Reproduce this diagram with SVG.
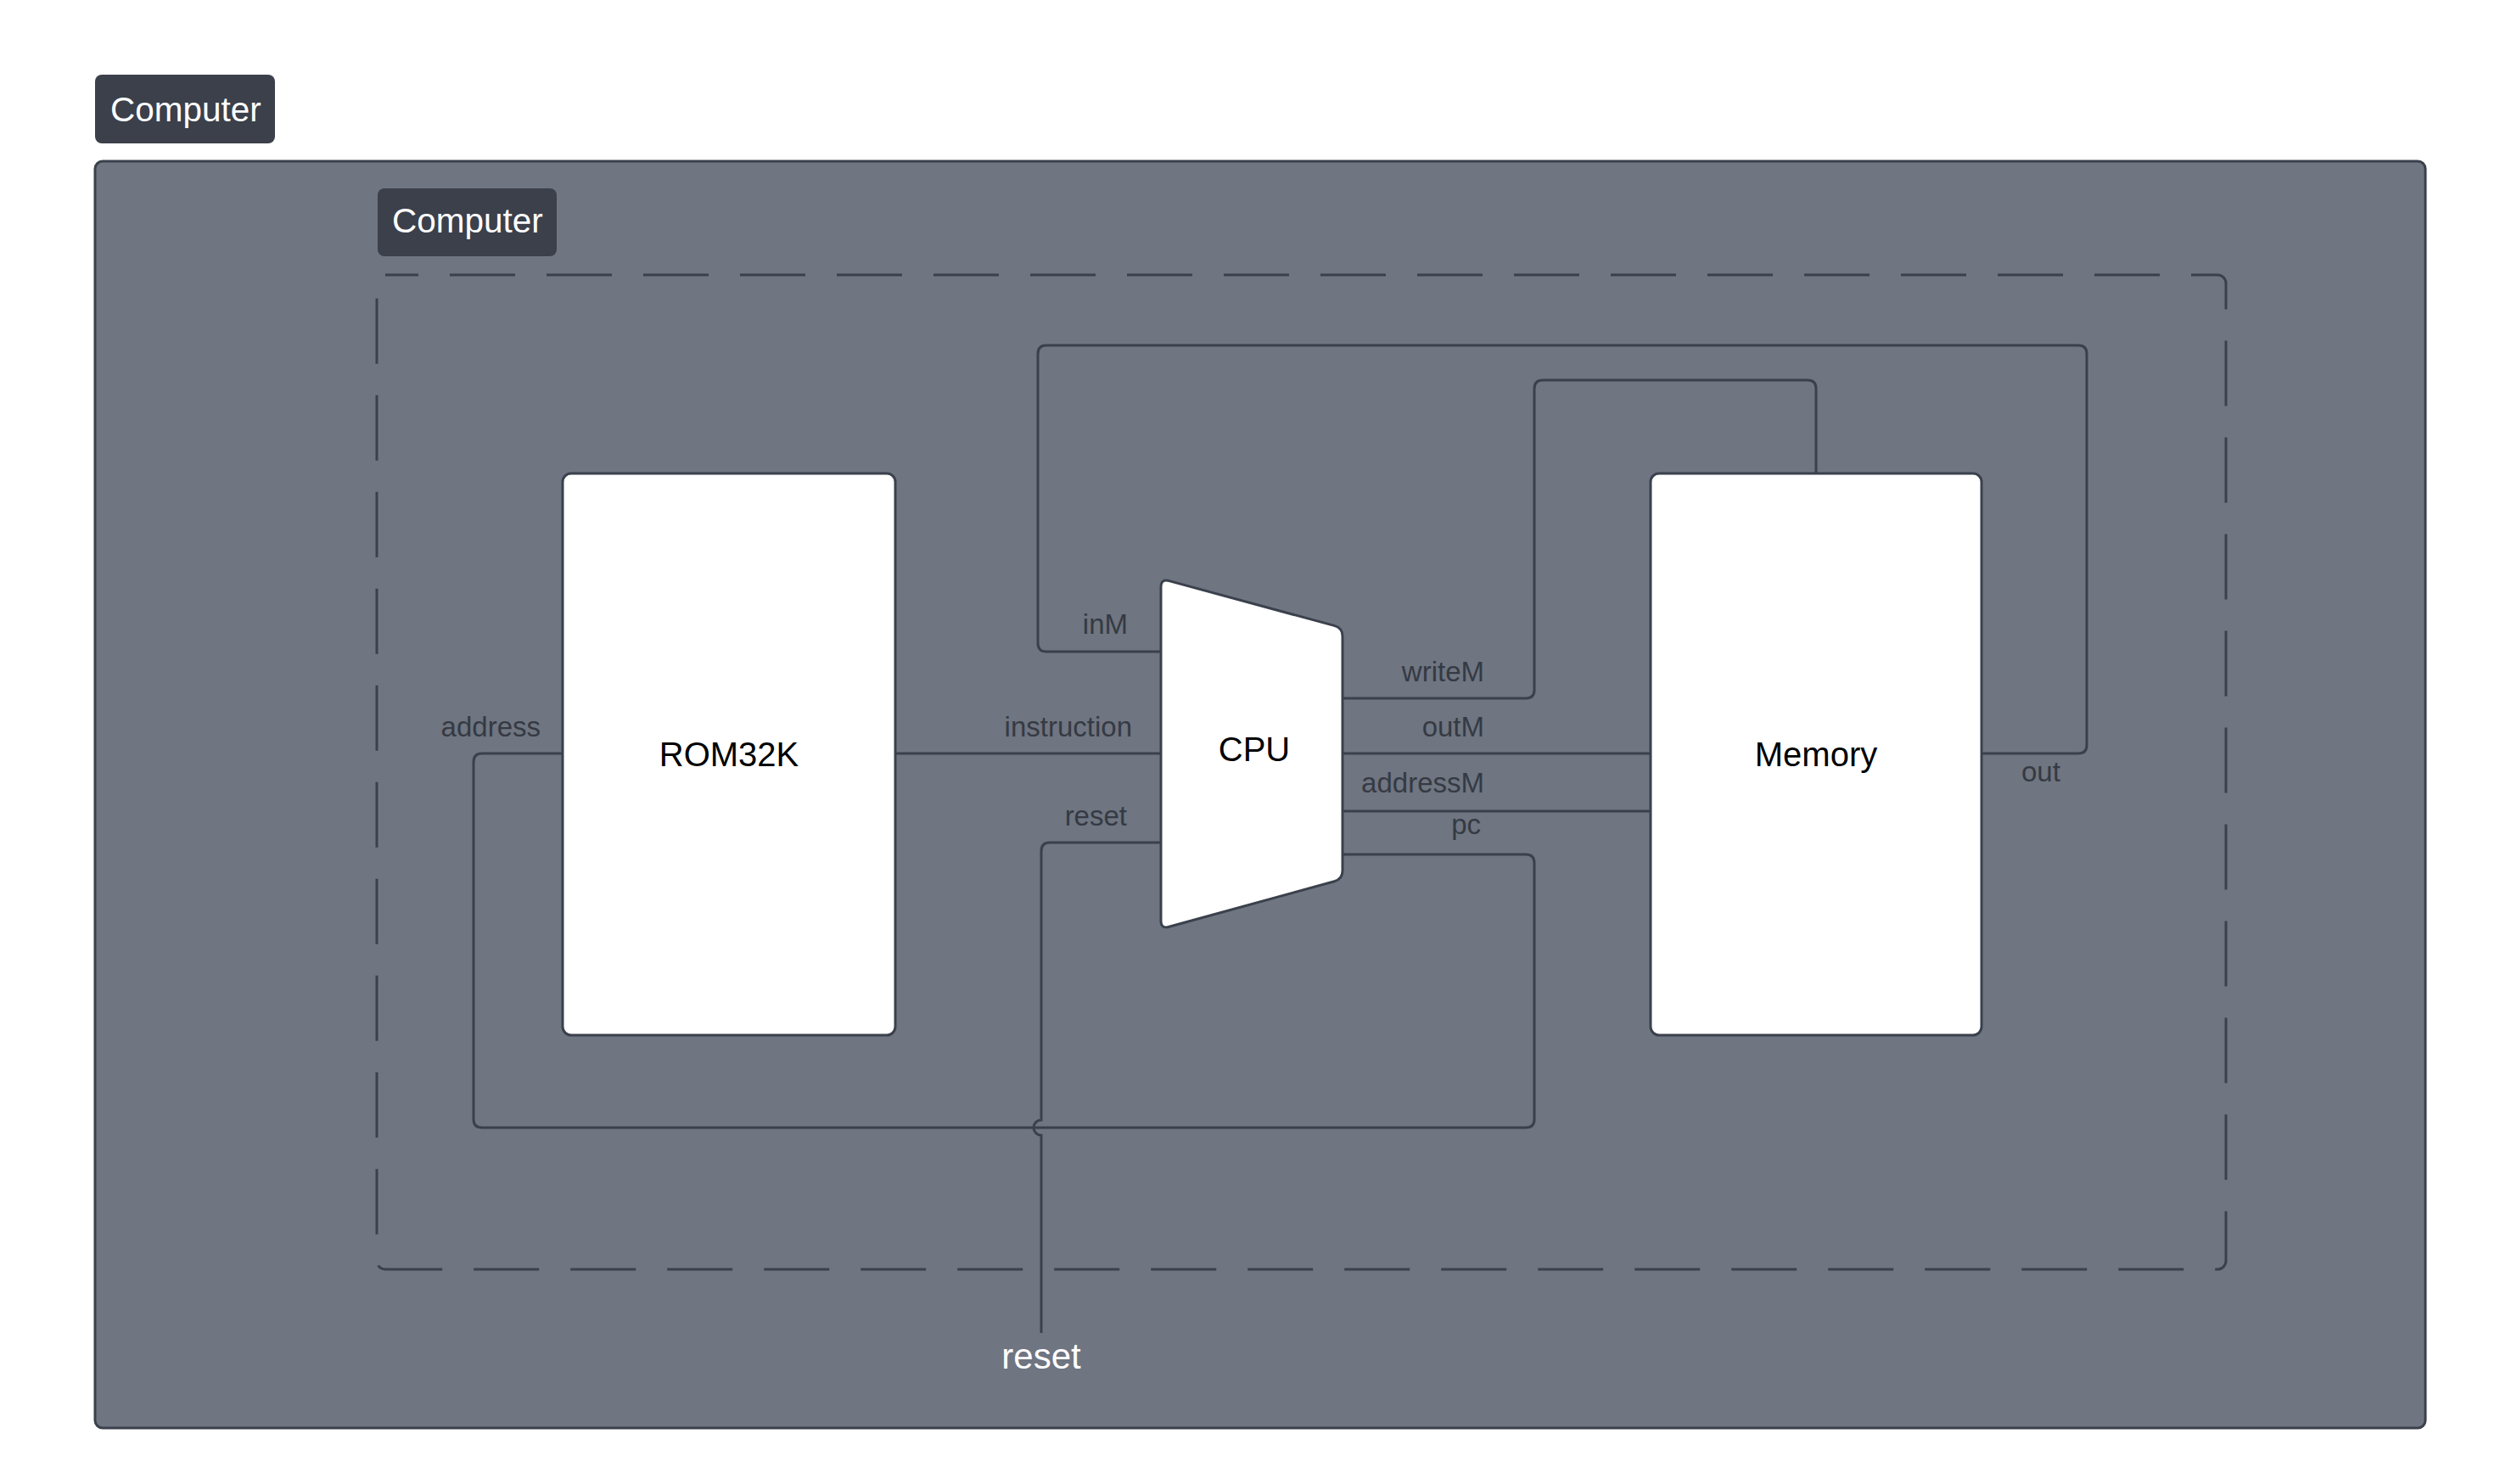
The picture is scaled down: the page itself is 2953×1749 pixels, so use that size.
<svg xmlns="http://www.w3.org/2000/svg" width="2953" height="1749" viewBox="0 0 2953 1749">
<style>
.frame{fill:#6f7581;stroke:#3b414c;stroke-width:3}
.dash{fill:none;stroke:#3b414c;stroke-width:3;stroke-dasharray:77 37;stroke-dashoffset:38}
.tag{fill:#3b404b}
.tagtxt{font-family:"Liberation Sans",Arial,sans-serif;font-size:40.5px;fill:#ffffff}
.node{fill:#ffffff;stroke:#3b414c;stroke-width:3}
.ntxt{font-family:"Liberation Sans",Arial,sans-serif;font-size:40px;fill:#000000;text-anchor:middle}
.wire{fill:none;stroke:#3b414c;stroke-width:3}
.lbl{font-family:"Liberation Sans",Arial,sans-serif;font-size:33px;fill:#353a43}
.end{text-anchor:end}
</style>
<rect width="2953" height="1749" fill="#ffffff"/>
<g id="outer-computer">
<rect class="frame" x="112" y="190" width="2746" height="1493" rx="9"/>
<rect class="tag" x="112" y="88" width="212" height="81" rx="8"/>
<text class="tagtxt" x="130" y="143">Computer</text>
</g>
<g id="inner-computer">
<rect class="dash" x="444" y="324" width="2179" height="1172" rx="10"/>
<rect class="tag" x="445" y="222" width="211" height="80" rx="8"/>
<text class="tagtxt" x="462" y="274">Computer</text>
</g>
<g id="connectors">
<path class="wire" d="M1055,888 H1368"/>
<path class="wire" d="M1582,1007 H1798 Q1808,1007 1808,1017 V1319 Q1808,1329 1798,1329 H568 Q558,1329 558,1319 V898 Q558,888 568,888 H663"/>
<path class="wire" d="M1227,1571 V1338 A9,9 0 0,1 1227,1320 V1003 Q1227,993 1237,993 H1368"/>
<path class="wire" d="M1368,768 H1233 Q1223,768 1223,758 V417 Q1223,407 1233,407 H2449 Q2459,407 2459,417 V878 Q2459,888 2449,888 H2335"/>
<path class="wire" d="M1582,823 H1798 Q1808,823 1808,813 V458 Q1808,448 1818,448 H2130 Q2140,448 2140,458 V558"/>
<path class="wire" d="M1582,888 H1945"/>
<path class="wire" d="M1582,956 H1945"/>
</g>
<g id="labels">
<text class="lbl end" x="637" y="868">address</text>
<text class="lbl end" x="1334" y="868">instruction</text>
<text class="lbl end" x="1329" y="747">inM</text>
<text class="lbl end" x="1328" y="973">reset</text>
<text class="lbl end" x="1749" y="803">writeM</text>
<text class="lbl end" x="1749" y="868">outM</text>
<text class="lbl end" x="1749" y="934">addressM</text>
<text class="lbl end" x="1745" y="983">pc</text>
<text class="lbl" x="2382" y="921">out</text>
<text x="1227" y="1613" font-family="'Liberation Sans',Arial,sans-serif" font-size="42" fill="#ffffff" text-anchor="middle">reset</text>
</g>
<g id="ROM32K">
<rect class="node" x="663" y="558" width="392" height="662" rx="10"/>
<text class="ntxt" x="859" y="903">ROM32K</text>
</g>
<g id="CPU">
<path class="node" d="M1368,692 Q1368,682 1377.7,684.6 L1572.3,737.4 Q1582,740 1582,750 V1026 Q1582,1036 1572.4,1038.7 L1377.6,1092.3 Q1368,1095 1368,1085 Z"/>
<text class="ntxt" x="1478" y="897">CPU</text>
</g>
<g id="Memory">
<rect class="node" x="1945" y="558" width="390" height="662" rx="10"/>
<text class="ntxt" x="2140" y="903">Memory</text>
</g>
</svg>
